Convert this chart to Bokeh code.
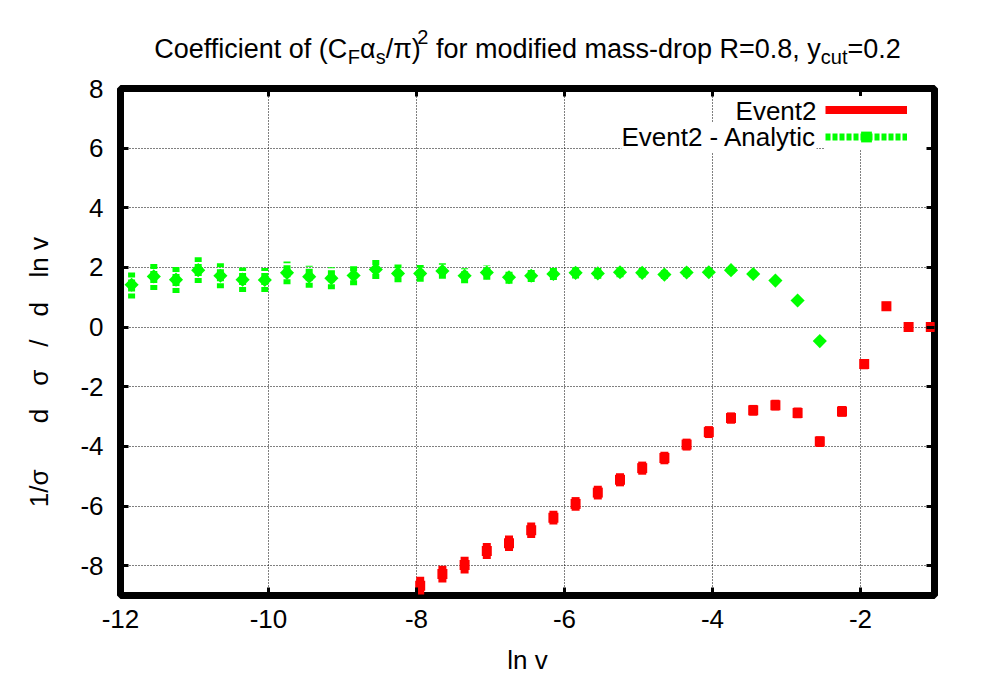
import math
from bokeh.plotting import figure
from bokeh.layouts import column, row
from bokeh.models import (ColumnDataSource, Label, Legend, LegendItem, LinearAxis,
                          FixedTicker, CustomJSTickFormatter, Range1d)
from bokeh.embed import file_html
from bokeh.resources import INLINE

# ---------------- data ----------------
green_x = [-11.85, -11.55, -11.25, -10.95, -10.65, -10.35, -10.05, -9.75, -9.45, -9.15,
           -8.85, -8.55, -8.25, -7.95, -7.65, -7.35, -7.05, -6.75, -6.45, -6.15,
           -5.85, -5.55, -5.25, -4.95, -4.65, -4.35, -4.05, -3.75, -3.45, -3.15,
           -2.85, -2.55]
green_y = [1.42, 1.70, 1.59, 1.91, 1.72, 1.59, 1.58, 1.82, 1.69, 1.64,
           1.73, 1.93, 1.80, 1.80, 1.88, 1.72, 1.83, 1.67, 1.72, 1.78,
           1.82, 1.80, 1.84, 1.82, 1.76, 1.83, 1.84, 1.91, 1.78, 1.56,
           0.89, -0.47]
green_err = [0.46, 0.46, 0.45, 0.43, 0.42, 0.41, 0.40, 0.38, 0.37, 0.37,
             0.33, 0.32, 0.30, 0.28, 0.26, 0.25, 0.24, 0.22, 0.21, 0.20,
             0.19, 0.18, 0.17, 0.16, 0.15, 0.14, 0.13, 0.12, 0.11, 0.10,
             0.09, 0.08]

red_x = [-7.95, -7.65, -7.35, -7.05, -6.75, -6.45, -6.15, -5.85, -5.55, -5.25,
         -4.95, -4.65, -4.35, -4.05, -3.75, -3.45, -3.15, -2.85, -2.55, -2.25,
         -1.95, -1.65, -1.35, -1.05]
red_y = [-8.67, -8.28, -7.98, -7.51, -7.25, -6.81, -6.39, -5.93, -5.55, -5.12,
         -4.73, -4.39, -3.94, -3.52, -3.05, -2.79, -2.62, -2.88, -3.84, -2.83,
         -1.24, 0.70, 0.00, 0.00]
red_err = [0.30, 0.28, 0.28, 0.27, 0.26, 0.26, 0.23, 0.23, 0.23, 0.22,
           0.22, 0.21, 0.20, 0.20, 0.19, 0.18, 0.18, 0.18, 0.18, 0.18,
           0.17, 0.15, 0.15, 0.15]

x_ticks = [-12, -10, -8, -6, -4, -2]
y_ticks = [-8, -6, -4, -2, 0, 2, 4, 6, 8]

series_names = ["Event2", "Event2 - Analytic"]
x_label = "ln v"
y_label_words = ["1/σ", "d", "σ", "/", "d", "ln v"]   # "1/σ  d σ / d ln v"

# ---------------- layout geometry (page pixels) ----------------
FONT = "Liberation Sans"
FS = 26
LEFT_W = 60                # strip with the y label
W = 906                    # main figure / title strip width
TOP_H = 70                 # title strip height
H = 609                    # main figure height
ML, MT = 60, 18
FRAME_W, FRAME_H = 814, 507
MR = W - ML - FRAME_W
MB = H - MT - FRAME_H
X0, X1, Y0, Y1 = -12, -1, -9, 8
PX_LEFT = LEFT_W + ML      # page x of frame left  (120)
PX_TOP = TOP_H + MT        # page y of frame top   (88)
PX_BOTTOM = PX_TOP + FRAME_H


def px2x(page_x):
    return X0 + (page_x - PX_LEFT) * (X1 - X0) / FRAME_W


def py2y(page_y):
    return Y1 - (page_y - PX_TOP) * (Y1 - Y0) / FRAME_H


p = figure(width=W, height=H, x_range=Range1d(X0, X1), y_range=Range1d(Y0, Y1),
           output_backend="svg", toolbar_location=None, title=None,
           min_border_left=ML, min_border_right=MR, min_border_top=MT, min_border_bottom=MB)
p.background_fill_color = "white"
p.border_fill_color = "white"
p.outline_line_color = "black"
p.outline_line_width = 7

fmt = CustomJSTickFormatter(code="return tick.toFixed(0)")
for ax, ticks in ((p.xaxis[0], x_ticks), (p.yaxis[0], y_ticks)):
    ax.ticker = FixedTicker(ticks=ticks)
    ax.formatter = fmt
    ax.axis_line_color = None
    ax.major_tick_in = 8
    ax.major_tick_out = 0
    ax.major_tick_line_width = 3
    ax.major_tick_line_color = "black"
    ax.minor_tick_line_color = None
    ax.major_label_text_font = FONT
    ax.major_label_text_font_size = f"{FS}px"
    ax.major_label_text_color = "black"

p.xaxis.major_label_standoff = 14
p.yaxis.major_label_standoff = 17
p.xaxis.axis_label = x_label
p.xaxis.axis_label_text_font = FONT
p.xaxis.axis_label_text_font_size = f"{FS}px"
p.xaxis.axis_label_text_font_style = "normal"
p.xaxis.axis_label_text_color = "black"
p.xaxis.axis_label_standoff = 14

# mirror ticks on top and right
blank = CustomJSTickFormatter(code="return ''")
top = LinearAxis(ticker=FixedTicker(ticks=x_ticks), formatter=blank, axis_line_color=None,
                 major_tick_in=8, major_tick_out=0, major_tick_line_width=3,
                 minor_tick_line_color=None, major_label_text_font_size="1px")
right = LinearAxis(ticker=FixedTicker(ticks=y_ticks), formatter=blank, axis_line_color=None,
                   major_tick_in=8, major_tick_out=0, major_tick_line_width=3,
                   minor_tick_line_color=None, major_label_text_font_size="1px")
p.add_layout(top, "above")
p.add_layout(right, "right")

for g, ticks in ((p.xgrid[0], x_ticks), (p.ygrid[0], y_ticks)):
    g.ticker = FixedTicker(ticks=ticks)
    g.grid_line_color = "black"
    g.grid_line_width = 1
    g.grid_line_dash = "1 2"

# ---------------- data renderers ----------------
RED = "#ff0000"
GREEN = "#00ff00"

gsrc = ColumnDataSource(dict(x=green_x, y=green_y,
                             lo=[a - b for a, b in zip(green_y, green_err)],
                             hi=[a + b for a, b in zip(green_y, green_err)]))
rsrc = ColumnDataSource(dict(x=red_x, y=red_y,
                             lo=[a - b for a, b in zip(red_y, red_err)],
                             hi=[a + b for a, b in zip(red_y, red_err)]))

r_err = p.segment(x0="x", y0="lo", x1="x", y1="hi", source=rsrc, line_color=RED,
                  line_width=8, line_cap="butt")
r_pts = p.scatter("x", "y", source=rsrc, marker="square", size=10,
                  fill_color=RED, line_color=RED, line_width=0)

g_err = p.segment(x0="x", y0="lo", x1="x", y1="hi", source=gsrc, line_color=GREEN,
                  line_width=7, line_dash="5 2", line_cap="butt")
g_pts = p.scatter("x", "y", source=gsrc, marker="square", angle=math.pi / 4, size=10,
                  fill_color=GREEN, line_color=GREEN, line_width=0)

# ---------------- legend (text left, sample right as in reference) ----------------
legend = Legend(items=[LegendItem(label=" ", renderers=[r_err]),
                       LegendItem(label=" ", renderers=[g_err, g_pts])],
                location="top_right", orientation="vertical",
                glyph_width=82, glyph_height=27, label_height=27, label_width=19,
                label_standoff=0, spacing=0, padding=0, margin=8,
                label_text_font_size="2px", border_line_color=None,
                background_fill_color="white", background_fill_alpha=1.0)
p.add_layout(legend)

for name, py in zip(series_names, (110, 136.7)):
    p.add_layout(Label(x=px2x(816), y=py2y(py), text=name, text_align="right",
                       text_baseline="middle", text_font=FONT, text_font_size=f"{FS}px",
                       text_color="black", background_fill_color="white"))


def strip(w, h, xr, yr, **borders):
    f = figure(width=w, height=h, x_range=xr, y_range=yr, x_axis_type=None,
               y_axis_type=None, output_backend="svg", toolbar_location=None, title=None,
               **borders)
    f.outline_line_color = None
    f.background_fill_color = "white"
    f.border_fill_color = "white"
    f.xgrid.visible = False
    f.ygrid.visible = False
    return f


AW = {' ': 278, '(': 333, ')': 333, ',': 278, '-': 333, '.': 278, '/': 278, '0': 556,
      '1': 556, '2': 556, '8': 556, '=': 584, 'C': 722, 'F': 611, 'R': 722, 'a': 556,
      'c': 500, 'd': 556, 'e': 556, 'f': 278, 'i': 222, 'l': 222, 'm': 833, 'n': 556,
      'o': 556, 'p': 556, 'r': 333, 's': 500, 't': 278, 'u': 556, 'v': 500, 'y': 500,
      'α': 578, 'π': 560, 'σ': 600}


def tw(s, fs):
    return sum(AW.get(ch, 556) for ch in s) * fs / 1000.0


# ---------------- title strip (frame aligned with main frame -> data = page px) -------
tfig = strip(W, TOP_H, Range1d(PX_LEFT, PX_LEFT + FRAME_W), Range1d(TOP_H, 0),
             min_border_left=ML, min_border_right=MR, min_border_top=0, min_border_bottom=0)

TF_MAIN, TF_SMALL = 27, 20
pieces = [("Coefficient of (C", "main"), ("F", "sub"), ("α", "main"), ("s", "sub"),
          ("/π)", "main"), ("2", "sup"), (" ", "gap"), ("for modified mass-drop R=0.8, y", "main"),
          ("cut", "sub"), ("=0.2", "main")]
sizes = {"main": TF_MAIN, "sub": TF_SMALL, "sup": TF_SMALL, "gap": TF_MAIN}
shift = {"main": 0, "sub": 8, "sup": -12, "gap": 0}
total = sum(tw(s, sizes[k]) for s, k in pieces)
xpos = (PX_LEFT + FRAME_W / 2) - total / 2
base = 48
for s, k in pieces:
    if k != "gap":
        tfig.add_layout(Label(x=xpos, y=base + shift[k], text=s, text_align="left",
                              text_baseline="alphabetic", text_font=FONT,
                              text_font_size=f"{sizes[k]}px", text_color="black"))
    xpos += tw(s, sizes[k])

# ---------------- y label strip (spaced words, read bottom to top) ----------------
ylab = strip(LEFT_W, TOP_H + H, Range1d(0, LEFT_W), Range1d(PX_BOTTOM, PX_TOP),
             min_border=0)
YL_BOTTOM, YL_TOP = 507, 258          # page extent of the label in the reference
SCALE, OFFS = 1.218, -62.5            # measured strip mapping: page = OFFS + SCALE * data
XC = 38
gap_units = [2, 1, 1, 1, 1]
word_w = [tw(w, FS) for w in y_label_words]
gap = ((YL_BOTTOM - YL_TOP) - sum(word_w)) / sum(gap_units)
ypos = YL_BOTTOM
for i, w in enumerate(y_label_words):
    page_c = ypos - word_w[i] / 2
    ylab.add_layout(Label(x=XC, y=(page_c - OFFS) / SCALE, text=w, angle=math.pi / 2,
                          text_align="center", text_baseline="middle", text_font=FONT,
                          text_font_size=f"{FS}px", text_color="black"))
    ypos -= word_w[i]
    if i < len(gap_units):
        ypos -= gap_units[i] * gap

layout = row(ylab, column(tfig, p, spacing=0), spacing=0)
open("out.html", "w").write(file_html(layout, INLINE))
